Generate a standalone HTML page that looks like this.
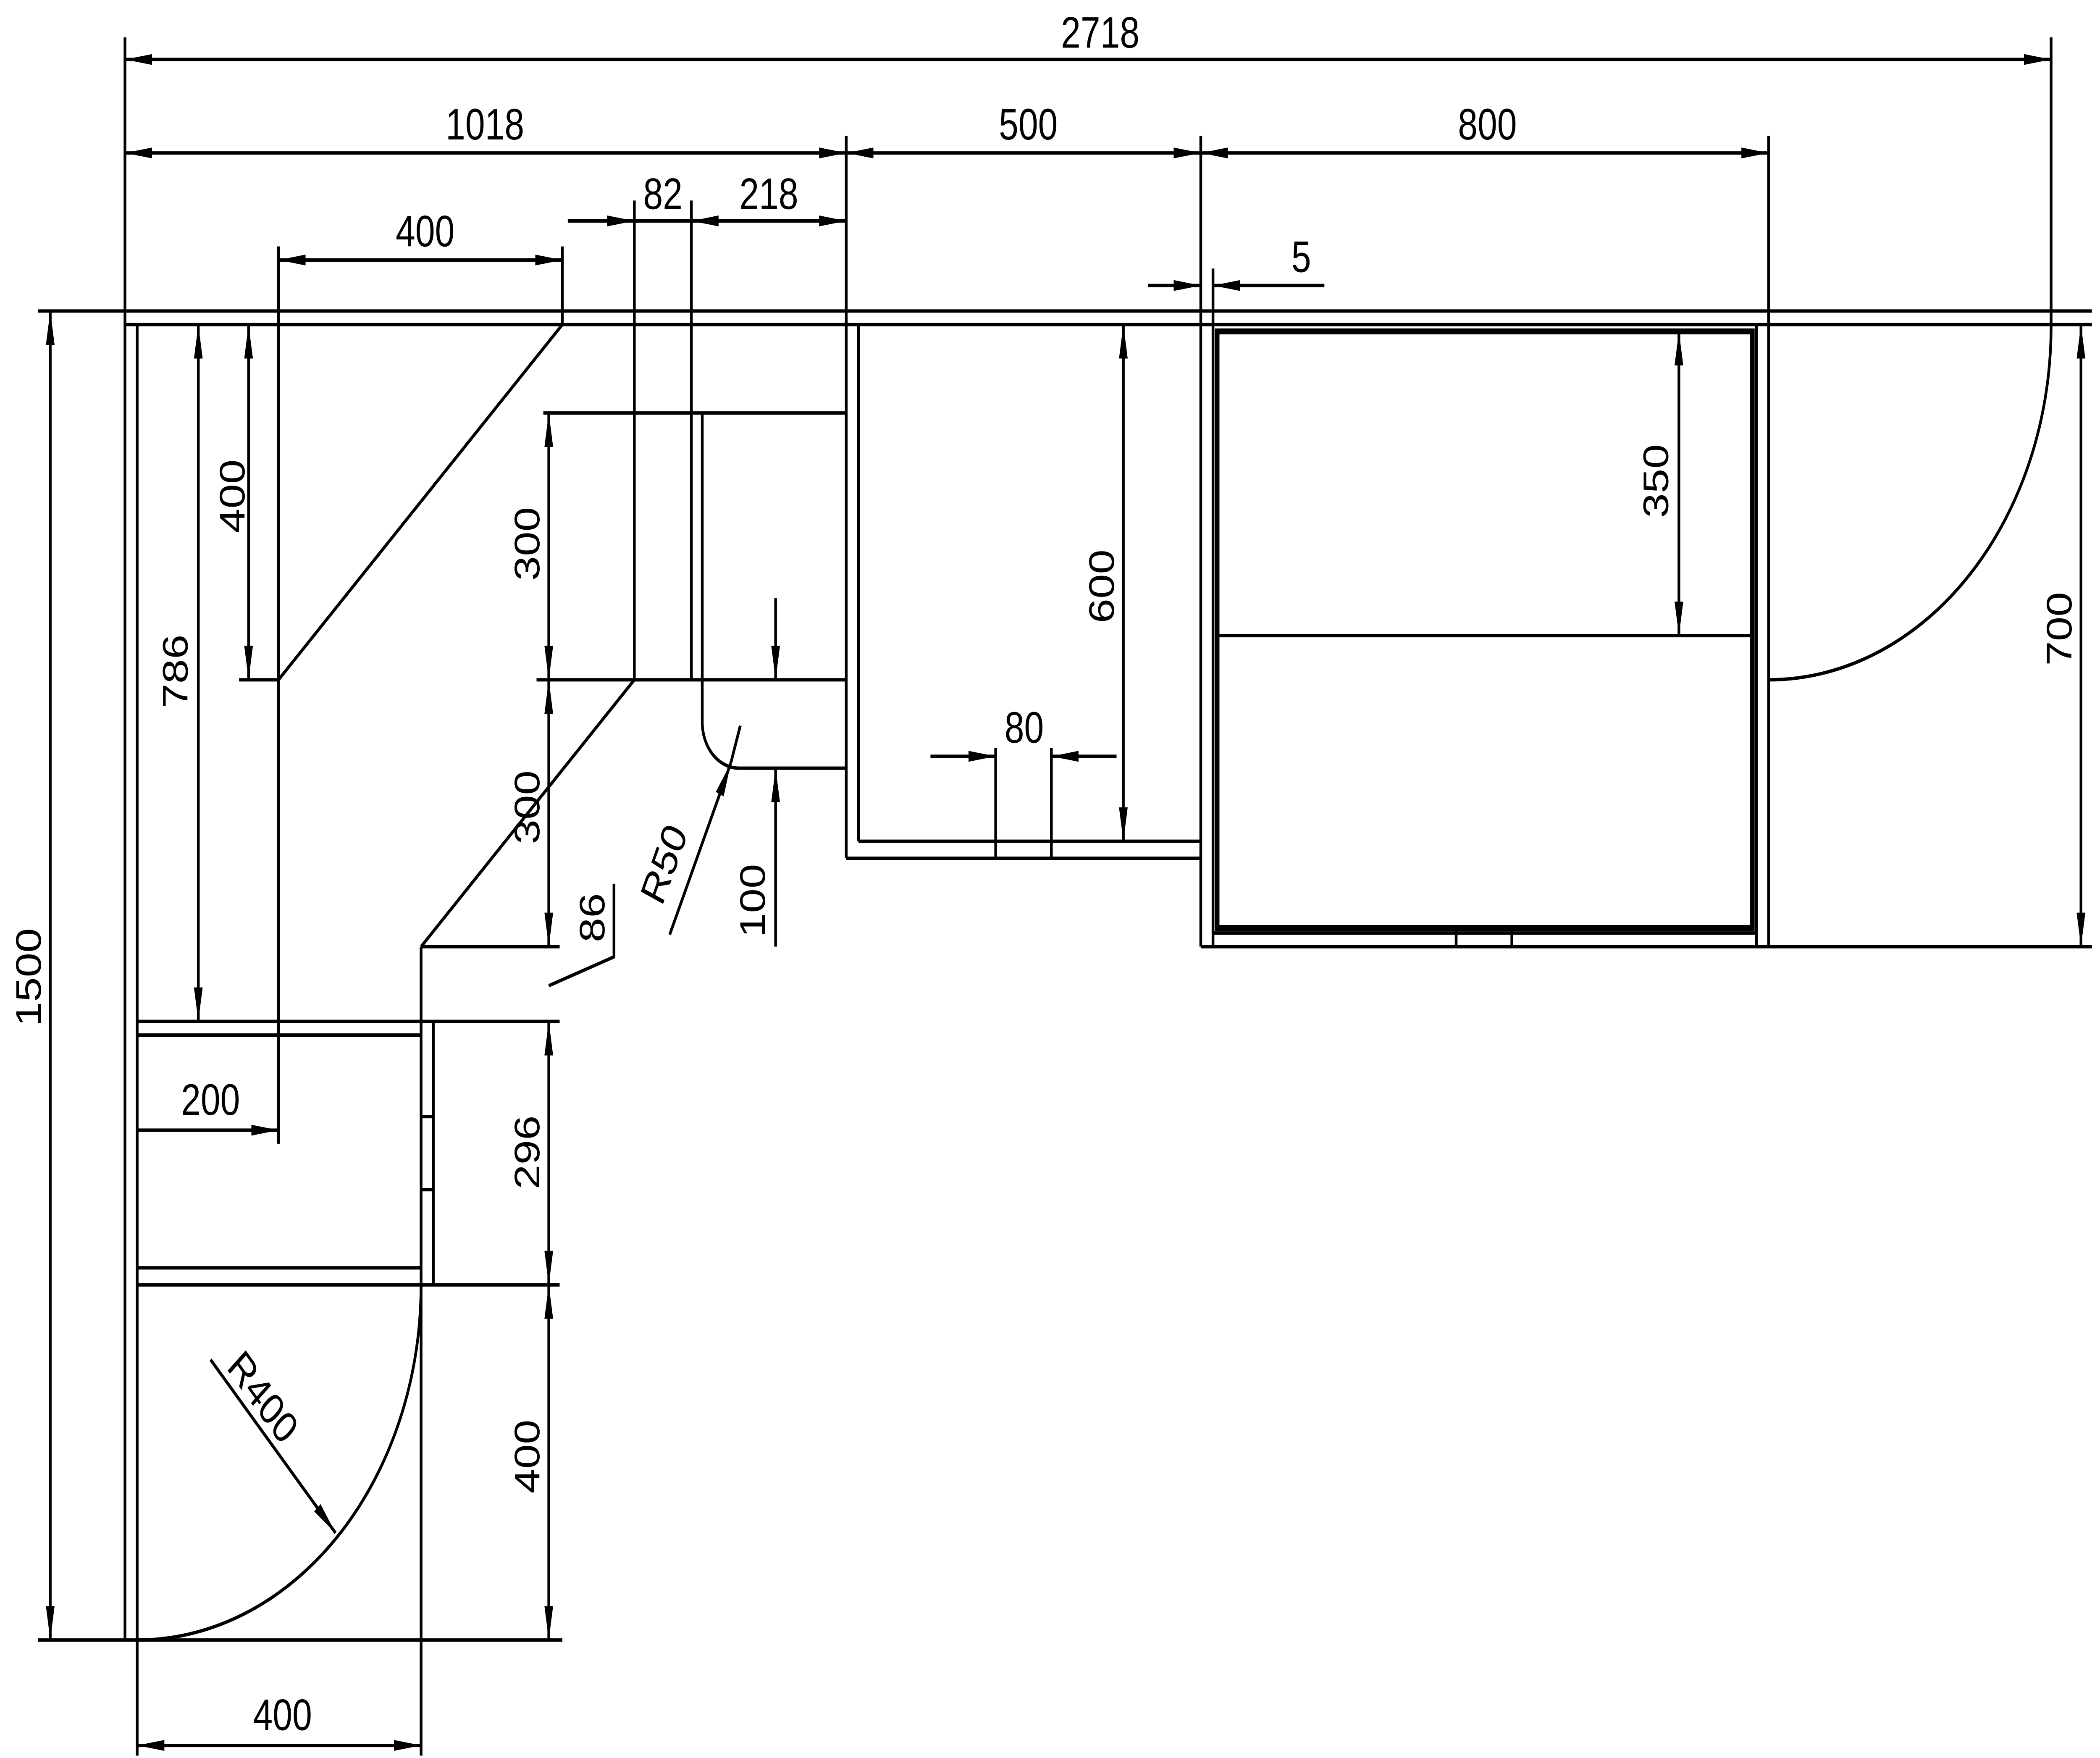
<!DOCTYPE html>
<html><head><style>html,body{margin:0;padding:0;background:#fff;width:100%;height:100%;overflow:hidden}svg{display:block;position:fixed;left:0;top:0;width:100vw;height:100vh}</style></head><body>
<svg viewBox="0 0 1546 1034.4" preserveAspectRatio="none" xmlns="http://www.w3.org/2000/svg">
<defs>
<marker id="a" markerUnits="userSpaceOnUse" markerWidth="22" markerHeight="8" refX="20" refY="4" orient="auto-start-reverse" viewBox="0 0 22 8"><path d="M0,0.8 L20,4 L0,7.2 Z" fill="#000"/></marker>
</defs>
<g stroke="#000" stroke-width="2" fill="none">
<line x1="92" y1="35" x2="1510" y2="35" marker-start="url(#a)" marker-end="url(#a)"/>
<line x1="92" y1="90" x2="623" y2="90" marker-start="url(#a)" marker-end="url(#a)"/>
<line x1="623" y1="90" x2="884" y2="90" marker-start="url(#a)" marker-end="url(#a)"/>
<line x1="884" y1="90" x2="1302" y2="90" marker-start="url(#a)" marker-end="url(#a)"/>
<line x1="205" y1="153" x2="414" y2="153" marker-start="url(#a)" marker-end="url(#a)"/>
<line x1="418" y1="130" x2="467" y2="130" marker-end="url(#a)"/>
<line x1="467" y1="130" x2="509" y2="130"/>
<line x1="509" y1="130" x2="623" y2="130" marker-start="url(#a)" marker-end="url(#a)"/>
<line x1="845" y1="168" x2="884" y2="168" marker-end="url(#a)"/>
<line x1="975" y1="168" x2="893" y2="168" marker-end="url(#a)"/>
<line x1="92" y1="22" x2="92" y2="965"/>
<line x1="1510" y1="22" x2="1510" y2="191"/>
<line x1="623" y1="80" x2="623" y2="505"/>
<line x1="884" y1="80" x2="884" y2="557"/>
<line x1="1302" y1="80" x2="1302" y2="557"/>
<line x1="467" y1="118" x2="467" y2="400"/>
<line x1="509" y1="118" x2="509" y2="400"/>
<line x1="205" y1="145" x2="205" y2="673"/>
<line x1="414" y1="145" x2="414" y2="191"/>
<line x1="893" y1="158" x2="893" y2="557"/>
<line x1="28" y1="183" x2="1540" y2="183"/>
<line x1="92" y1="191" x2="1540" y2="191"/>
<line x1="101" y1="191" x2="101" y2="1033"/>
<line x1="28" y1="965" x2="414" y2="965"/>
<line x1="414" y1="191" x2="205" y2="400"/>
<line x1="176" y1="400" x2="205" y2="400"/>
<line x1="183" y1="191" x2="183" y2="400" marker-start="url(#a)" marker-end="url(#a)"/>
<line x1="146" y1="191" x2="146" y2="601" marker-start="url(#a)" marker-end="url(#a)"/>
<line x1="37" y1="183" x2="37" y2="965" marker-start="url(#a)" marker-end="url(#a)"/>
<line x1="400" y1="243" x2="623" y2="243"/>
<line x1="395" y1="400" x2="623" y2="400"/>
<path d="M517,243 V425 A27,27 0 0 0 544,452 H623"/>
<line x1="467" y1="400" x2="310" y2="557"/>
<line x1="310" y1="557" x2="412" y2="557"/>
<line x1="310" y1="557" x2="310" y2="1033"/>
<line x1="319" y1="601" x2="319" y2="756"/>
<line x1="404" y1="243" x2="404" y2="400" marker-start="url(#a)" marker-end="url(#a)"/>
<line x1="404" y1="400" x2="404" y2="557" marker-start="url(#a)" marker-end="url(#a)"/>
<polyline points="404,580 452,563 452,520"/>
<line x1="101" y1="601" x2="412" y2="601"/>
<line x1="101" y1="609" x2="310" y2="609"/>
<line x1="101" y1="746" x2="310" y2="746"/>
<line x1="101" y1="756" x2="412" y2="756"/>
<line x1="310" y1="657" x2="319" y2="657"/>
<line x1="310" y1="700" x2="319" y2="700"/>
<line x1="404" y1="601" x2="404" y2="756" marker-start="url(#a)" marker-end="url(#a)"/>
<line x1="404" y1="756" x2="404" y2="965" marker-start="url(#a)" marker-end="url(#a)"/>
<path d="M310,756 A209,209 0 0 1 101,965"/>
<line x1="155" y1="800" x2="247" y2="902" marker-end="url(#a)"/>
<line x1="101" y1="1027" x2="310" y2="1027" marker-start="url(#a)" marker-end="url(#a)"/>
<line x1="101" y1="665" x2="205" y2="665" marker-end="url(#a)"/>
<line x1="493" y1="550" x2="538" y2="449" marker-end="url(#a)"/>
<line x1="538" y1="449" x2="545" y2="427"/>
<line x1="571" y1="352" x2="571" y2="400" marker-end="url(#a)"/>
<line x1="571" y1="557" x2="571" y2="452" marker-end="url(#a)"/>
<line x1="632" y1="191" x2="632" y2="495"/>
<line x1="632" y1="495" x2="884" y2="495"/>
<line x1="623" y1="505" x2="884" y2="505"/>
<line x1="827" y1="191" x2="827" y2="495" marker-start="url(#a)" marker-end="url(#a)"/>
<line x1="733" y1="440" x2="733" y2="505"/>
<line x1="774" y1="440" x2="774" y2="505"/>
<line x1="685" y1="445" x2="733" y2="445" marker-end="url(#a)"/>
<line x1="822" y1="445" x2="774" y2="445" marker-end="url(#a)"/>
<rect x="896" y="195" width="394" height="351" stroke-width="3.5"/>
<line x1="896" y1="374" x2="1290" y2="374"/>
<line x1="893" y1="549" x2="1293" y2="549"/>
<line x1="1293" y1="191" x2="1293" y2="557"/>
<line x1="1072" y1="546" x2="1072" y2="557"/>
<line x1="1113" y1="546" x2="1113" y2="557"/>
<line x1="1236" y1="195" x2="1236" y2="374" marker-start="url(#a)" marker-end="url(#a)"/>
<path d="M1510,191 A208,208 0 0 1 1302,400"/>
<line x1="1532" y1="191" x2="1532" y2="557" marker-start="url(#a)" marker-end="url(#a)"/>
<line x1="884" y1="557" x2="1540" y2="557"/>
</g>
<g font-family="Liberation Sans, sans-serif" font-size="26" fill="#000" text-anchor="middle">
<text x="810" y="28">2718</text>
<text x="357" y="82">1018</text>
<text x="757" y="82">500</text>
<text x="1095" y="82">800</text>
<text x="313" y="145">400</text>
<text x="488" y="123">82</text>
<text x="566" y="123">218</text>
<text x="958" y="160">5</text>
<text x="754" y="437">80</text>
<text x="155" y="656">200</text>
<text x="208" y="1018">400</text>
<text transform="translate(180,292) rotate(-90)">400</text>
<text transform="translate(138,395) rotate(-90)">786</text>
<text transform="translate(30,575) rotate(-90)">1500</text>
<text transform="translate(397,320) rotate(-90)">300</text>
<text transform="translate(397,475) rotate(-90)">300</text>
<text transform="translate(445,540) rotate(-90)">86</text>
<text transform="translate(397,678) rotate(-90)">296</text>
<text transform="translate(397,857) rotate(-90)">400</text>
<text transform="translate(563,530) rotate(-90)">100</text>
<text transform="translate(820,345) rotate(-90)">600</text>
<text transform="translate(1228,283) rotate(-90)">350</text>
<text transform="translate(1525,370) rotate(-90)">700</text>
<text transform="translate(497,512) rotate(-66)">R50</text>
<text transform="translate(187,828) rotate(48)">R400</text>
</g>
</svg>
</body></html>
